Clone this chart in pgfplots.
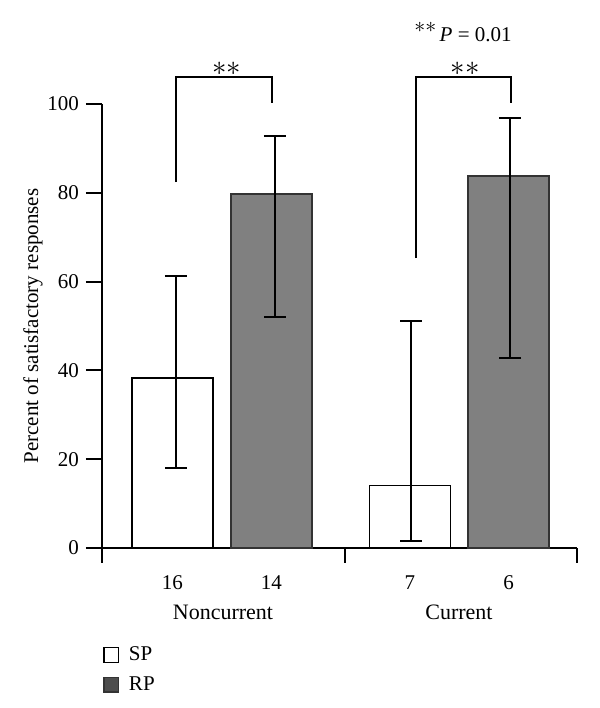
\documentclass[border=0pt]{standalone}
\usepackage{fontspec}
\setmainfont{Liberation Serif}
\usepackage{pgfplots}
\pgfplotsset{compat=1.18}
\usepackage{pgfplotstable}
\definecolor{barRP}{HTML}{808080}
\definecolor{legRP}{HTML}{4D4D4D}
\pgfplotstableread{
x y
172.5 38.3
410 14.1
}\sptable
\pgfplotstableread{
x y
271.5 79.7
508.5 83.8
}\rptable
\pgfplotstableread{
x y ep em
176 38.3 23.0 20.3
275 79.7 13.1 27.6
411 14.1 37.1 12.5
510 83.8 13.0 40.9
}\errtable
\begin{document}
\begin{tikzpicture}
\begin{axis}[
  scale only axis,
  width=237.5pt, height=222pt,
  xmin=102, xmax=577, ymin=0, ymax=100,
  clip=false,
  axis x line*=bottom, axis y line*=left,
  axis line style={-, line width=1pt, black},
  font=\fontsize{10.5}{12.5}\selectfont,
  /pgf/number format/assume math mode=true,
  ytick={0,20,40,60,80,100},
  ytick align=outside,
  y tick style={line width=1pt, black},
  major tick length=8pt,
  xtick={172.5,271.5,410,508.5},
  xticklabels={16,14,7,6},
  x tick style={draw=none},
  xticklabel style={yshift=-10.5pt},
  extra x ticks={102,345,577},
  extra x tick labels={},
  extra x tick style={tick align=outside, major tick length=7.5pt, x tick style={draw=black, line width=1pt}},
  ylabel={Percent of satisfactory responses},
  every axis y label/.style={at={(axis cs:33,50)}, rotate=90, anchor=center},
  legend style={draw=none, fill=none, at={(axis cs:97,-20.3)}, anchor=north west, row sep=2.5pt, column sep=3pt, font=\fontsize{10.5}{12.5}\selectfont},
  legend cell align=left,
  legend image code/.code={\draw[#1] (0pt,-3.6pt) rectangle (7.2pt,3.6pt);},
]
\addplot[ybar, bar width=81, bar shift=0pt, fill=white, draw=black, line width=0.8pt, forget plot] table[x=x, y=y] {\sptable};
\addplot[ybar, bar width=81, bar shift=0pt, fill=barRP, draw=black!80, line width=0.8pt, forget plot] table[x=x, y=y] {\rptable};
\addplot[draw=none, mark=none, forget plot,
  error bars/.cd, y dir=both, y explicit,
  error bar style={draw=black, line width=1pt},
  error mark options={rotate=90, mark size=5.5pt, line width=1pt, draw=black}]
  table[x=x, y=y, y error plus=ep, y error minus=em] {\errtable};
% significance brackets
\addplot[black, line width=0.9pt, forget plot] coordinates {(176,82.4) (176,106.1) (272,106.1) (272,100.2)};
\addplot[black, line width=0.9pt, forget plot] coordinates {(416,65.3) (416,106.1) (511,106.1) (511,100.2)};
\node at (axis cs:227,108.0) {\Large$\ast\ast$};
\node at (axis cs:465,108.0) {\Large$\ast\ast$};
\node at (axis cs:463,116.2) {\raisebox{0.9ex}{$\ast\ast$}\,\textit{P} = 0.01};
\node at (axis cs:223,-14.6) {\fontsize{11}{13}\selectfont Noncurrent};
\node at (axis cs:459,-14.6) {\fontsize{11}{13}\selectfont Current};
\addlegendimage{fill=white, draw=black, line width=0.6pt}
\addlegendentry{SP}
\addlegendimage{fill=legRP, draw=black!80, line width=0.6pt}
\addlegendentry{RP}
\path (axis cs:0,-36.04) rectangle (axis cs:600,123.42);
\end{axis}
\end{tikzpicture}
\end{document}
